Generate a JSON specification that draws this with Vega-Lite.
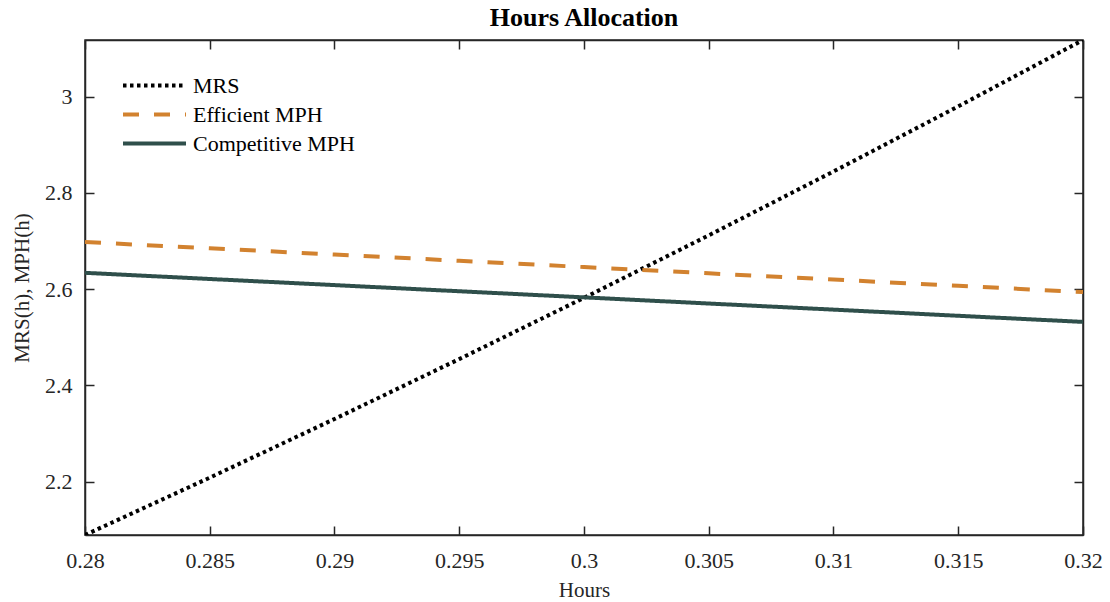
{
  "$schema": "https://vega.github.io/schema/vega-lite/v6.json",
  "autosize": "none",
  "width": 998,
  "height": 495,
  "padding": {"left": 85, "top": 40, "right": 27, "bottom": 67},
  "background": "white",
  "title": {"text": "Hours Allocation", "font": "Liberation Serif", "fontSize": 26, "fontWeight": "bold", "color": "#000000", "anchor": "middle", "offset": 8},
  "data": {"values": [
    {"h": 0.28, "v": 2.089, "s": "MRS"},
    {"h": 0.285, "v": 2.2082, "s": "MRS"},
    {"h": 0.29, "v": 2.3301, "s": "MRS"},
    {"h": 0.295, "v": 2.4547, "s": "MRS"},
    {"h": 0.30, "v": 2.582, "s": "MRS"},
    {"h": 0.305, "v": 2.7119, "s": "MRS"},
    {"h": 0.31, "v": 2.8447, "s": "MRS"},
    {"h": 0.315, "v": 2.98, "s": "MRS"},
    {"h": 0.32, "v": 3.118, "s": "MRS"},
    {"h": 0.28, "v": 2.698, "s": "Efficient MPH"},
    {"h": 0.285, "v": 2.685, "s": "Efficient MPH"},
    {"h": 0.29, "v": 2.672, "s": "Efficient MPH"},
    {"h": 0.295, "v": 2.659, "s": "Efficient MPH"},
    {"h": 0.30, "v": 2.646, "s": "Efficient MPH"},
    {"h": 0.305, "v": 2.633, "s": "Efficient MPH"},
    {"h": 0.31, "v": 2.620, "s": "Efficient MPH"},
    {"h": 0.315, "v": 2.607, "s": "Efficient MPH"},
    {"h": 0.32, "v": 2.594, "s": "Efficient MPH"},
    {"h": 0.28, "v": 2.634, "s": "Competitive MPH"},
    {"h": 0.285, "v": 2.6212, "s": "Competitive MPH"},
    {"h": 0.29, "v": 2.6085, "s": "Competitive MPH"},
    {"h": 0.295, "v": 2.5957, "s": "Competitive MPH"},
    {"h": 0.30, "v": 2.583, "s": "Competitive MPH"},
    {"h": 0.305, "v": 2.5702, "s": "Competitive MPH"},
    {"h": 0.31, "v": 2.5575, "s": "Competitive MPH"},
    {"h": 0.315, "v": 2.5447, "s": "Competitive MPH"},
    {"h": 0.32, "v": 2.532, "s": "Competitive MPH"}
  ]},
  "layer": [
    {
      "mark": {"type": "line", "strokeWidth": 4, "clip": true},
      "encoding": {
        "x": {"field": "h", "type": "quantitative",
          "scale": {"domain": [0.28, 0.32], "nice": false, "zero": false},
          "axis": {"orient": "bottom", "title": "Hours", "values": [0.28, 0.285, 0.29, 0.295, 0.3, 0.305, 0.31, 0.315, 0.32], "format": "~g", "grid": false, "tickSize": -9, "labelPadding": 24, "labelFlush": false, "titlePadding": 8}},
        "y": {"field": "v", "type": "quantitative",
          "scale": {"domain": [2.089, 3.118], "nice": false, "zero": false},
          "axis": {"orient": "left", "title": "MRS(h), MPH(h)", "values": [2.2, 2.4, 2.6, 2.8, 3.0], "format": "~g", "grid": false, "tickSize": -9, "labelPadding": 22, "labelFlush": false, "titlePadding": 12}},
        "color": {"field": "s", "type": "nominal",
          "scale": {"domain": ["MRS", "Efficient MPH", "Competitive MPH"], "range": ["#000000", "#D2822F", "#2F4F4B"]},
          "legend": {"title": null, "orient": "none", "legendX": 36, "legendY": 31, "symbolType": "stroke", "symbolSize": 3969, "symbolStrokeWidth": 4, "labelFont": "Liberation Serif", "labelFontSize": 22, "labelColor": "#000000", "labelLimit": 400, "clipHeight": 29, "rowPadding": 0, "labelOffset": 5}},
        "strokeDash": {"field": "s", "type": "nominal",
          "scale": {"domain": ["MRS", "Efficient MPH", "Competitive MPH"], "range": [[3.5, 3.5], [16, 15], [1, 0]]},
          "legend": {"title": null, "orient": "none", "legendX": 36, "legendY": 31, "symbolType": "stroke", "symbolSize": 3969, "symbolStrokeWidth": 4, "labelFont": "Liberation Serif", "labelFontSize": 22, "labelColor": "#000000", "labelLimit": 400, "clipHeight": 29, "rowPadding": 0, "labelOffset": 5}}
      }
    },
    {
      "mark": {"type": "line", "opacity": 0},
      "encoding": {
        "x": {"field": "h", "type": "quantitative",
          "axis": {"orient": "top", "title": null, "labels": false, "values": [0.28, 0.285, 0.29, 0.295, 0.3, 0.305, 0.31, 0.315, 0.32], "grid": false, "tickSize": -9}},
        "y": {"field": "v", "type": "quantitative",
          "axis": {"orient": "right", "title": null, "labels": false, "values": [2.2, 2.4, 2.6, 2.8, 3.0], "grid": false, "tickSize": -9}},
        "detail": {"field": "s", "type": "nominal"}
      }
    }
  ],
  "config": {
    "view": {"stroke": "#262626", "strokeWidth": 1.5},
    "axis": {"domainColor": "#262626", "domainWidth": 1.5, "tickColor": "#262626", "tickWidth": 1.5, "labelFont": "Liberation Serif", "labelFontSize": 22, "labelColor": "#262626", "titleFont": "Liberation Serif", "titleFontSize": 21, "titleFontWeight": "normal", "titleColor": "#262626"},
    "legend": {"padding": 0}
  }
}
